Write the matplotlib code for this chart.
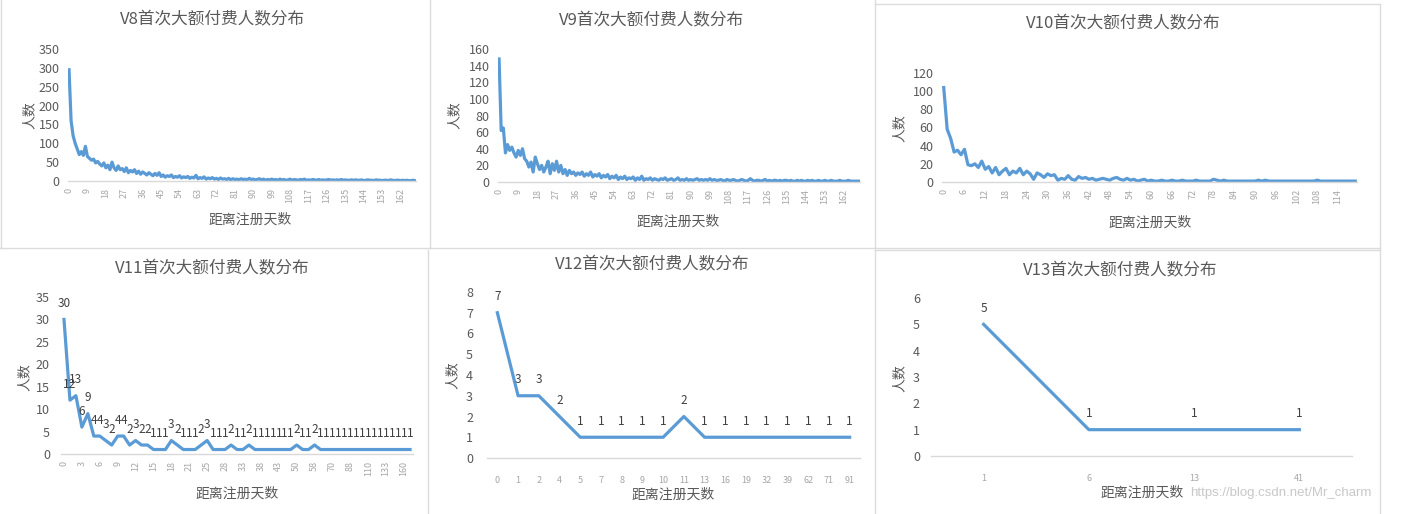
import numpy as np
import matplotlib.pyplot as plt
from matplotlib.lines import Line2D

plt.rcParams['font.family'] = ['Noto Sans CJK SC', 'DejaVu Sans']

# ---- data ----
v8_counts = [295, 160, 120, 100, 85, 70, 78, 68, 92, 65,
             60, 55, 58, 48, 52, 45, 40, 48, 35, 42,
             30, 50, 35, 28, 40, 30, 33, 25, 35, 22,
             28, 24, 30, 20, 26, 18, 24, 20, 16, 22,
             18, 14, 20, 15, 22, 12, 16, 10, 14, 12,
             16, 9, 12, 10, 14, 8, 11, 9, 12, 7,
             10, 8, 15, 6, 9, 7, 11, 5, 8, 6,
             9, 5, 7, 4, 8, 5, 6, 4, 7, 3,
             6, 4, 5, 3, 6, 4, 5, 3, 7, 4,
             5, 3, 4, 6, 3, 5, 2, 4, 3, 5,
             3, 4, 2, 5, 3, 4, 2, 3, 5, 2,
             4, 3, 2, 4, 3, 5, 2, 3, 2, 4,
             3, 2, 4, 2, 3, 2, 3, 4, 2, 3,
             2, 3, 2, 4, 2, 3, 2, 2, 3, 2,
             3, 2, 2, 3, 1, 2, 3, 2, 2, 1,
             3, 2, 2, 1, 2, 2, 1, 3, 2, 1,
             2, 2, 1, 2, 1, 2, 1, 1, 2, 1]

v9_counts = [148, 62, 65, 35, 45, 38, 42, 35, 30, 38,
             32, 40, 28, 25, 18, 24, 12, 30, 22, 15,
             20, 12, 18, 25, 10, 22, 14, 25, 12, 20,
             10, 15, 8, 14, 10, 12, 8, 11, 9, 12,
             7, 10, 8, 12, 6, 9, 7, 10, 5, 8,
             6, 9, 4, 7, 5, 8, 3, 6, 4, 7,
             3, 5, 4, 6, 2, 5, 3, 7, 2, 4,
             3, 5, 2, 4, 3, 2, 4, 3, 5, 2,
             3, 4, 2, 3, 5, 2, 3, 2, 4, 2,
             3, 2, 3, 4, 2, 3, 2, 3, 2, 4,
             2, 3, 2, 2, 3, 2, 1, 3, 2, 2,
             3, 2, 1, 2, 3, 2, 1, 2, 4, 2,
             1, 2, 2, 1, 2, 3, 1, 2, 1, 2,
             2, 1, 2, 1, 2, 2, 1, 2, 1, 1,
             2, 1, 2, 1, 1, 2, 1, 2, 1, 1,
             2, 1, 1, 2, 1, 1, 2, 1, 1, 1,
             2, 1, 1, 1, 2, 1, 1, 1, 1, 1]

v10_counts = [104, 58, 48, 33, 35, 30, 36, 19, 18, 20,
              16, 23, 14, 17, 10, 16, 8, 12, 15, 8,
              12, 10, 15, 8, 12, 9, 3, 10, 8, 5,
              9, 7, 8, 2, 4, 3, 7, 3, 2, 6,
              4, 5, 3, 4, 2, 3, 4, 3, 2, 4,
              5, 3, 2, 4, 2, 3, 1, 2, 3, 1,
              2, 1, 1, 2, 1, 1, 2, 1, 1, 2,
              1, 1, 1, 2, 1, 1, 1, 1, 3, 2,
              1, 2, 1, 1, 1, 1, 1, 1, 1, 1,
              1, 2, 1, 2, 1, 1, 1, 1, 1, 1,
              1, 1, 1, 1, 1, 1, 1, 1, 2, 1,
              1, 1, 1, 1, 1, 1, 1, 1, 1, 1]

v11_counts = [30, 12, 13, 6, 9, 4, 4, 3, 2, 4, 4, 2, 3, 2, 2, 1, 1, 1, 3, 2,
              1, 1, 1, 2, 3, 1, 1, 1, 2, 1, 1, 2, 1, 1, 1, 1, 1, 1, 1, 2,
              1, 1, 2, 1, 1, 1, 1, 1, 1, 1, 1, 1, 1, 1, 1, 1, 1, 1, 1]
v11_days = ['0', '1', '2', '3', '4', '5', '6', '7', '8', '9', '10', '11', '12', '13',
            '14', '15', '16', '17', '18', '19', '20', '21', '22', '23', '25', '26',
            '27', '28', '29', '31', '33', '34', '36', '38', '40', '41', '43', '45',
            '47', '50', '52', '55', '58', '61', '65', '70', '75', '80', '88', '95',
            '102', '110', '118', '125', '133', '140', '150', '160', '175']

v12_counts = [7, 3, 3, 2, 1, 1, 1, 1, 1, 2, 1, 1, 1, 1, 1, 1, 1, 1]
v12_days = ['0', '1', '2', '4', '5', '7', '8', '9', '10', '11', '13', '16', '19',
            '32', '39', '62', '71', '91']

v13_counts = [5, 1, 1, 1]
v13_days = ['1', '6', '13', '41']

BLUE = '#5B9BD5'
GREY = '#595959'
W, H = 1409, 514

fig = plt.figure(figsize=(W / 100, H / 100), dpi=100)


def fx(x):
    return x / W


def fy(y):
    return 1 - y / H


def draw_panel(box, counts, days, ymax, ystep, ypad, title, title_xy, ylab_xy,
               xlab_xy, every=1, rot=90, xpad=5, values=False):
    left, top, right, bottom = box
    ax = fig.add_axes([fx(left), fy(bottom), (right - left) / W, (bottom - top) / H])
    x = np.arange(len(counts))
    ax.plot(x, counts, color=BLUE, lw=2.3, solid_joinstyle='round')
    ax.set_xlim(-0.5, len(counts) - 0.5)
    ax.set_ylim(0, ymax)
    ax.set_yticks(np.arange(0, ymax + ystep / 2, ystep))
    ax.set_xticks(x[::every])
    ax.set_xticklabels(days[::every], rotation=rot)
    ax.tick_params(axis='y', length=0, pad=ypad, labelsize=9, labelcolor=GREY)
    ax.tick_params(axis='x', length=0, pad=xpad, labelsize=6.5, labelcolor='#a6a6a6')
    for s in ['top', 'right', 'left']:
        ax.spines[s].set_visible(False)
    ax.spines['bottom'].set_color('#d9d9d9')
    ax.spines['bottom'].set_linewidth(1)
    ax.patch.set_alpha(0)
    if values:
        for xi, v in zip(x, counts):
            ax.annotate(str(v), (xi, v), xytext=(0, 16), textcoords='offset pixels',
                        ha='center', va='center', fontsize=8.5, color='#404040',
                        annotation_clip=False)
    fig.text(fx(title_xy[0]), fy(title_xy[1]), title, ha='center', va='center',
             fontsize=12, color=GREY)
    fig.text(fx(ylab_xy[0]), fy(ylab_xy[1]), '人数', ha='center', va='center',
             rotation=90, fontsize=10, color=GREY)
    fig.text(fx(xlab_xy[0]), fy(xlab_xy[1]), '距离注册天数', ha='center', va='center',
             fontsize=10, color=GREY)
    return ax


v8_days = [str(d) for d in range(len(v8_counts))]
v9_days = [str(d) for d in range(len(v9_counts))]
v10_days = [str(d) for d in range(len(v10_counts))]

draw_panel((68, 49, 416, 181), v8_counts, v8_days, 350, 50, 6,
           'V8首次大额付费人数分布', (213, 20), (30, 115), (250, 220), every=9)
draw_panel((498, 49, 860, 182), v9_counts, v9_days, 160, 20, 6,
           'V9首次大额付费人数分布', (652, 21), (455, 115), (678, 222), every=9)
draw_panel((942, 73, 1357, 182), v10_counts, v10_days, 120, 20, 6,
           'V10首次大额付费人数分布', (1123, 24), (900, 128), (1150, 223), every=6)
draw_panel((61, 297, 413, 454), v11_counts, v11_days, 35, 5, 8,
           'V11首次大额付费人数分布', (212, 269), (25, 377), (237, 494), every=3,
           values=True)
draw_panel((487, 292, 860, 458), v12_counts, v12_days, 8, 1, 10,
           'V12首次大额付费人数分布', (652, 265), (453, 375), (673, 495), rot=0,
           xpad=13, values=True)
draw_panel((931, 298, 1352, 456), v13_counts, v13_days, 6, 1, 8,
           'V13首次大额付费人数分布', (1120, 271), (900, 378), (1142, 493), rot=0,
           xpad=13, values=True)

# panel borders of the screenshot
border = dict(color='#dcdcdc', lw=1, transform=fig.transFigure)
for (x0, y0, x1, y1) in [(430, 0, 430, 248), (875, 0, 875, 514), (0, 248, 1380, 248),
                         (428, 250, 428, 514), (1380, 4, 1380, 514), (875, 4, 1380, 4),
                         (1, 0, 1, 248), (875, 250, 1380, 250)]:
    fig.add_artist(Line2D([fx(x0), fx(x1)], [fy(y0), fy(y1)], **border))

fig.text(fx(1190), fy(493), 'https://blog.csdn.net/Mr_charm', ha='left', va='center',
         fontsize=9.5, color='#c8c8c8', family='Liberation Sans')

fig.savefig('out.png', dpi=100)
